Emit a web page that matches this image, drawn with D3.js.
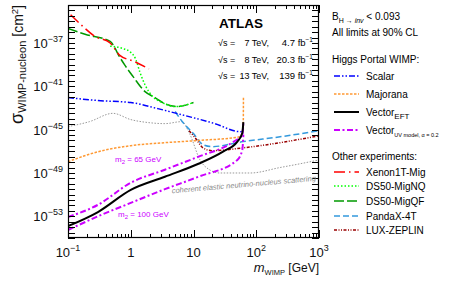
<!DOCTYPE html>
<html>
<head>
<meta charset="utf-8">
<script src="https://cdn.jsdelivr.net/npm/d3@7"></script>
<style>
body { margin: 0; background: #fff; }
text { font-family: "Liberation Sans", Arial, sans-serif; }
</style>
</head>
<body>
<div id="chart"></div>
<script>
// values (mass in GeV, cross-section in cm^2)
var scalarMass = [0.1, 0.3, 1, 2.7, 7.3, 22, 55, 61, 62.3];
var scalarXsec = [9.1e-43, 4.9e-43, 3.2e-43, 8.7e-44, 2.0e-44, 3.6e-45, 6.5e-46, 8e-46, 1.5e-45];

var majoranaMass = [0.1, 0.3, 1, 3.5, 12, 55, 61.5, 62.2, 62.5];
var majoranaXsec = [1.1e-48, 9.1e-48, 3.3e-47, 6.3e-47, 1.0e-46, 2.2e-46, 1.0e-45, 8.5e-45, 9.1e-43];

var vectorEftMass = [0.1, 0.3, 1, 3.5, 12, 30, 50, 60, 62.3];
var vectorEftXsec = [1.26e-54, 2.5e-53, 2.75e-51, 4.5e-50, 7.1e-49, 1.0e-47, 7.9e-47, 5.0e-46, 5.0e-45];

var vectorUv65Mass = [0.1, 0.3, 1, 3.5, 12, 41, 60, 62.3];
var vectorUv65Xsec = [8.7e-54, 1.15e-52, 1.26e-50, 2.0e-49, 3.2e-48, 6.3e-47, 3.5e-46, 4.5e-45];

var vectorUv100Mass = [0.1, 0.3, 1, 3.5, 12, 50, 60, 62.3];
var vectorUv100Xsec = [5.5e-55, 1.0e-53, 1.74e-52, 3.2e-51, 4.5e-50, 1.6e-48, 1.4e-47, 3.5e-46];

var nuFloorMass = [0.1, 0.22, 0.52, 1, 1.9, 3.5, 6.5, 8.8, 12.7, 18, 26, 80, 240, 500, 1000];
var nuFloorXsec = [1.9e-45, 5.5e-45, 3.2e-44, 8.5e-45, 4.5e-45, 3.6e-45, 5.5e-45, 3.5e-46, 1.6e-48, 2.0e-49, 1.0e-49, 1.0e-49, 3.2e-49, 7.1e-49, 1.6e-48];

var xenonMass = [0.11, 0.167, 0.27, 0.47, 0.67, 1.13, 1.95];
var xenonXsec = [4e-35, 4e-36, 4e-37, 1e-37, 7.1e-39, 2e-39, 4e-40];

var ds50nqMass = [0.47, 0.73, 1.0, 1.2, 1.4, 1.7, 2.2, 3.15, 5.1, 10];
var ds50nqXsec = [5e-38, 3.2e-38, 1.35e-38, 3.2e-39, 2e-40, 1.26e-41, 1.26e-42, 3.2e-43, 1.35e-43, 3.2e-43];

var ds50qfMass = [0.1, 0.187, 0.47, 0.54, 0.63, 0.81, 1.09, 1.69, 2.43, 3.5, 5.6, 10];
var ds50qfXsec = [2.2e-36, 6.3e-37, 1.4e-37, 5e-38, 8.9e-39, 8.5e-40, 7.9e-41, 3.2e-42, 9.1e-43, 2.5e-43, 1.35e-43, 3.2e-43];

var pandaxMass = [5.1, 6.8, 10, 14.2, 19.6, 62, 240, 1000];
var pandaxXsec = [4.7e-44, 4.5e-45, 4.3e-46, 4.1e-47, 2.7e-47, 7.9e-47, 2.2e-46, 7.9e-46];

var lzMass = [8.5, 10.6, 14.2, 19.6, 62, 240, 1000];
var lzXsec = [7.9e-46, 1.8e-46, 2.1e-47, 1.15e-47, 2.1e-47, 6.3e-47, 2.75e-46];

var massTicks = [0.1, 1, 10, 100, 1000];
var massTickLabels = [["10", "\u22121"], ["1", ""], ["10", ""], ["10", "2"], ["10", "3"]];
var xsecTicks = [1e-37, 1e-41, 1e-45, 1e-49, 1e-53];
var xsecTickLabels = ["\u221237", "\u221241", "\u221245", "\u221249", "\u221253"];

var width = 457, height = 281;
var pLeft = 68, pRight = 319, pTop = 5, pBottom = 238;

var svg = d3.select("#chart").append("svg").attr("width", width).attr("height", height);

var x = d3.scaleLog().domain([0.1, 1000]).range([pLeft, pRight]);
var y = d3.scaleLog().domain([1e-55, 3.2e-34]).range([pBottom, pTop]);

svg.append("clipPath").attr("id", "clip")
   .append("rect").attr("x", pLeft).attr("y", pTop).attr("width", pRight - pLeft).attr("height", pBottom - pTop);

var line = d3.line().x(function(d) { return x(d[0]); }).y(function(d) { return y(d[1]); })
             .curve(d3.curveMonotoneX);

// style of each curve: colour, width, dash
var styles = {
    scalar:   {color: "#0000ff", w: 1.5, dash: "6,2,1.5,2,1.5,2"},
    majorana: {color: "#ff9933", w: 1.5, dash: "2.5,1.5"},
    eft:      {color: "#000000", w: 2,   dash: null},
    uv:       {color: "#cc00ff", w: 2,   dash: "6,2.5,2,2.5"},
    nu:       {color: "#999999", w: 1,   dash: "1.5,1.5"},
    xenon:    {color: "#ff0000", w: 1.5, dash: "11,4,1.5,4"},
    nq:       {color: "#00ff00", w: 1.5, dash: "1.5,2"},
    qf:       {color: "#009900", w: 1.5, dash: "10,3"},
    pandax:   {color: "#3399dd", w: 1.5, dash: "6,3"},
    lz:       {color: "#990000", w: 1.5, dash: "3,1.5,1,1.5,1,1.5"}
};

var curves = [
    [nuFloorMass, nuFloorXsec, "nu"],
    [ds50qfMass, ds50qfXsec, "qf"],
    [ds50nqMass, ds50nqXsec, "nq"],
    [xenonMass, xenonXsec, "xenon"],
    [pandaxMass, pandaxXsec, "pandax"],
    [lzMass, lzXsec, "lz"],
    [majoranaMass, majoranaXsec, "majorana"],
    [scalarMass, scalarXsec, "scalar"],
    [vectorUv65Mass, vectorUv65Xsec, "uv"],
    [vectorUv100Mass, vectorUv100Xsec, "uv"],
    [vectorEftMass, vectorEftXsec, "eft"]
];

var plot = svg.append("g").attr("clip-path", "url(#clip)");
curves.forEach(function(c) {
    var s = styles[c[2]];
    plot.append("path").datum(d3.zip(c[0], c[1]))
        .attr("d", line)
        .attr("fill", "none")
        .attr("stroke", s.color)
        .attr("stroke-width", s.w)
        .attr("stroke-dasharray", s.dash);
});

// frame + ticks (all pointing inward)
var xTickVals = [];
for (var d = 0.1; d < 1000; d *= 10) {
    for (var k = 1; k < 10; k++) xTickVals.push(d * k);
}
xTickVals.push(1000);
var yTickVals = [];
for (var e = -55; e <= -34; e += 0.5) yTickVals.push(Math.pow(10, e));

var isMajor = function(v) { return Math.abs(Math.log10(v) - Math.round(Math.log10(v))) < 1e-6; };

var ticks = svg.append("g").attr("stroke", "#000").attr("stroke-width", 1);
xTickVals.forEach(function(v) {
    var px = Math.round(x(v)) + 0.5, len = isMajor(v) ? 8 : 4;
    ticks.append("line").attr("x1", px).attr("x2", px).attr("y1", pBottom).attr("y2", pBottom - len);
    ticks.append("line").attr("x1", px).attr("x2", px).attr("y1", pTop).attr("y2", pTop + len);
});
yTickVals.forEach(function(v) {
    var py = Math.round(y(v)) + 0.5;
    ticks.append("line").attr("x1", pLeft).attr("x2", pLeft + 7).attr("y1", py).attr("y2", py);
    ticks.append("line").attr("x1", pRight).attr("x2", pRight - 7).attr("y1", py).attr("y2", py);
});
svg.append("rect").attr("x", pLeft + 0.5).attr("y", pTop + 0.5)
   .attr("width", pRight - pLeft - 1).attr("height", pBottom - pTop - 1)
   .attr("fill", "none").attr("stroke", "#000").attr("stroke-width", 1.2);

// tick labels
massTicks.forEach(function(v, i) {
    var t = svg.append("text").attr("x", x(v)).attr("y", 257).attr("text-anchor", "middle")
               .attr("font-size", 13).attr("fill", "#111");
    t.append("tspan").text(massTickLabels[i][0]);
    if (massTickLabels[i][1]) t.append("tspan").attr("dy", -6).attr("font-size", 9).text(massTickLabels[i][1]);
});
xsecTicks.forEach(function(v, i) {
    var t = svg.append("text").attr("x", 63).attr("y", y(v) + 5).attr("text-anchor", "end")
               .attr("font-size", 13).attr("fill", "#111");
    t.append("tspan").text("10");
    t.append("tspan").attr("dy", -6).attr("font-size", 9).text(xsecTickLabels[i]);
});

// axis titles
var xt = svg.append("text").attr("x", pRight).attr("y", 272).attr("text-anchor", "end").attr("fill", "#111");
xt.append("tspan").attr("font-size", 13).attr("font-style", "italic").text("m");
xt.append("tspan").attr("font-size", 7.5).attr("dy", 3).text("WIMP");
xt.append("tspan").attr("font-size", 12).attr("dy", -3).text(" [GeV]");

var yt = svg.append("text").attr("transform", "translate(23," + pTop + ") rotate(-90)")
            .attr("text-anchor", "end").attr("fill", "#111");
yt.append("tspan").attr("font-size", 18).text("\u03c3");
yt.append("tspan").attr("font-size", 11).attr("dy", 3).text("WIMP-nucleon");
yt.append("tspan").attr("font-size", 14).attr("dy", -3).text(" [cm");
yt.append("tspan").attr("font-size", 9.5).attr("dy", -5).text("2");
yt.append("tspan").attr("font-size", 14).attr("dy", 5).text("]");

// curve annotations
var m65 = svg.append("text").attr("x", 115).attr("y", 162).attr("font-size", 8).attr("fill", "#cc00ff");
m65.append("tspan").text("m");
m65.append("tspan").attr("font-size", 6).attr("dy", 2).text("2");
m65.append("tspan").attr("dy", -2).text(" = 65 GeV");
var m100 = svg.append("text").attr("x", 118).attr("y", 217).attr("font-size", 8).attr("fill", "#cc00ff");
m100.append("tspan").text("m");
m100.append("tspan").attr("font-size", 6).attr("dy", 2).text("2");
m100.append("tspan").attr("dy", -2).text(" = 100 GeV");

svg.append("text").attr("transform", "translate(244,187) rotate(-5)")
   .attr("text-anchor", "middle").attr("font-size", 7.5)
   .attr("font-family", "Liberation Serif, serif").attr("font-style", "italic")
   .attr("fill", "#888").text("coherent elastic neutrino-nucleus scattering");

// ATLAS label
svg.append("text").attr("x", 219).attr("y", 28).attr("font-size", 13.5).attr("font-weight", "bold")
   .attr("fill", "#000").text("ATLAS");
var runs = [["7 TeV,", "4.7"], ["8 TeV,", "20.3"], ["13 TeV,", "139"]];
runs.forEach(function(r, i) {
    var yy = 46 + i * 16.5;
    svg.append("text").attr("x", 218).attr("y", yy).attr("font-size", 9).text("\u221as =");
    svg.append("text").attr("x", 269).attr("y", yy).attr("font-size", 9).attr("text-anchor", "end").text(r[0]);
    var t = svg.append("text").attr("x", 313).attr("y", yy).attr("font-size", 9.5).attr("text-anchor", "end");
    t.append("tspan").text(r[1] + " fb");
    t.append("tspan").attr("font-size", 6.5).attr("dy", -4).text("\u22121");
});

// legend
var lx = 332;
var b = svg.append("text").attr("x", lx).attr("y", 20).attr("font-size", 10);
b.append("tspan").text("B");
b.append("tspan").attr("font-size", 7).attr("dy", 3).text("H \u2192 ");
b.append("tspan").attr("font-size", 7).attr("font-style", "italic").text("inv");
b.append("tspan").attr("dy", -3).text(" < 0.093");
svg.append("text").attr("x", lx).attr("y", 36).attr("font-size", 10).text("All limits at 90% CL");
svg.append("text").attr("x", lx).attr("y", 63).attr("font-size", 10).text("Higgs Portal WIMP:");
svg.append("text").attr("x", lx).attr("y", 160).attr("font-size", 10).text("Other experiments:");

var legendRows = [
    ["scalar", 76, "Scalar", ""],
    ["majorana", 94, "Majorana", ""],
    ["eft", 112, "Vector", "EFT"],
    ["uv", 130, "Vector", "UV model, \u03b1 = 0.2"],
    ["xenon", 172, "Xenon1T-Mig", ""],
    ["nq", 186, "DS50-MigNQ", ""],
    ["qf", 201, "DS50-MigQF", ""],
    ["pandax", 216, "PandaX-4T", ""],
    ["lz", 230, "LUX-ZEPLIN", ""]
];
legendRows.forEach(function(r) {
    var s = styles[r[0]];
    svg.append("line").attr("x1", 334).attr("x2", 359).attr("y1", r[1]).attr("y2", r[1])
       .attr("stroke", s.color).attr("stroke-width", s.w).attr("stroke-dasharray", s.dash);
    var t = svg.append("text").attr("x", 366).attr("y", r[1] + 4).attr("font-size", 10);
    t.append("tspan").text(r[2]);
    if (r[3]) t.append("tspan").attr("font-size", r[3] == "EFT" ? 8 : 5.5).attr("dy", 3).text(r[3]);
});
</script>
</body>
</html>
